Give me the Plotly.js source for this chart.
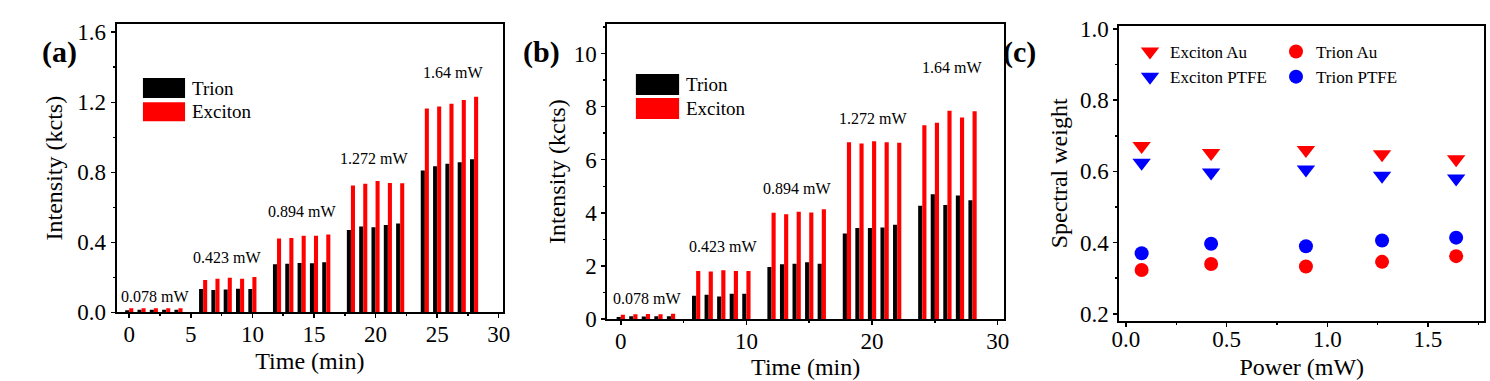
<!DOCTYPE html>
<html>
<head>
<meta charset="utf-8">
<script src="https://cdn.plot.ly/plotly-3.0.1.min.js"></script>
<style>
  html, body { margin: 0; padding: 0; background: #fff; }
  #chart { width: 1490px; height: 381px; }
</style>
</head>
<body>
<div id="chart"></div>
<script>
// measurement times (min), five per power step
const times = [0, 1, 2, 3, 4, 6, 7, 8, 9, 10, 12, 13, 14, 15, 16, 18, 19, 20, 21, 22, 24, 25, 26, 27, 28];

// panel (a) intensities, kcts
const trionA = [0.012, 0.015, 0.015, 0.015, 0.015,
                0.133, 0.128, 0.130, 0.135, 0.133,
                0.274, 0.278, 0.282, 0.280, 0.286,
                0.470, 0.490, 0.486, 0.499, 0.507,
                0.810, 0.834, 0.848, 0.857, 0.874];
const excitonA = [0.023, 0.023, 0.023, 0.023, 0.023,
                  0.185, 0.192, 0.198, 0.192, 0.202,
                  0.421, 0.425, 0.438, 0.438, 0.444,
                  0.724, 0.735, 0.750, 0.739, 0.737,
                  1.164, 1.175, 1.192, 1.213, 1.232];

// panel (b) intensities, kcts
const trionB = [0.075, 0.10, 0.09, 0.10, 0.10,
                0.875, 0.91, 0.85, 0.95, 0.95,
                1.96, 2.06, 2.08, 2.14, 2.08,
                3.22, 3.43, 3.43, 3.45, 3.55,
                4.27, 4.70, 4.29, 4.65, 4.47];
const excitonB = [0.16, 0.175, 0.19, 0.175, 0.20,
                  1.81, 1.79, 1.84, 1.81, 1.81,
                  4.00, 3.95, 4.04, 4.01, 4.13,
                  6.66, 6.61, 6.70, 6.66, 6.64,
                  7.30, 7.39, 7.84, 7.59, 7.83];

// panel (c) spectral weights vs power
const powers = [0.078, 0.423, 0.894, 1.272, 1.64];
const excitonAu = [0.671, 0.652, 0.660, 0.648, 0.634];
const excitonPTFE = [0.624, 0.597, 0.605, 0.588, 0.580];
const trionAu = [0.323, 0.340, 0.333, 0.346, 0.362];
const trionPTFE = [0.370, 0.397, 0.390, 0.406, 0.414];

const FONT = 'Liberation Serif';
const RED = '#ff0000', BLUE = '#0000ff';

function axis(extra) {
    return Object.assign({
        showline: true, linewidth: 2, linecolor: 'black', mirror: true,
        ticks: 'outside', ticklen: 4, tickwidth: 1.5, tickcolor: 'black',
        showgrid: false, zeroline: false,
        tickfont: { family: FONT, size: 23, color: 'black' },
    }, extra);
}
function minor(dtick) {
    return { ticks: 'outside', ticklen: 2, tickwidth: 1.5, tickcolor: 'black', dtick: dtick, showgrid: false };
}
function title(text, standoff) {
    return { text: text, standoff: standoff, font: { family: FONT, size: 24, color: 'black' } };
}

function bars(y, color, offset, xa, ya) {
    return {
        type: 'bar', x: times, y: y, width: 0.33, offset: offset,
        marker: { color: color, line: { width: 0 } },
        xaxis: xa, yaxis: ya, showlegend: false, hoverinfo: 'x+y',
    };
}
function points(y, symbol, color, size, name, legend) {
    return {
        type: 'scatter', mode: 'markers', x: powers, y: y, name: name,
        marker: { symbol: symbol, size: size, color: color },
        xaxis: 'x3', yaxis: 'y3', legend: legend,
    };
}

const data = [
    bars(trionA, 'black', -0.33, 'x', 'y'),
    bars(excitonA, RED, 0, 'x', 'y'),
    bars(trionB, 'black', -0.33, 'x2', 'y2'),
    bars(excitonB, RED, 0, 'x2', 'y2'),
    points(excitonAu, 'triangle-down', RED, 16, 'Exciton Au', 'legend2'),
    points(excitonPTFE, 'triangle-down', BLUE, 16, 'Exciton PTFE', 'legend2'),
    points(trionAu, 'circle', RED, 14, 'Trion Au', 'legend3'),
    points(trionPTFE, 'circle', BLUE, 14, 'Trion PTFE', 'legend3'),
];

// power labels over each group of bars
const powerLabels = powers.map(p => p + ' mW');
const labelPosA = [[2.1, 0.093], [7.9, 0.312], [14.0, 0.575], [19.9, 0.88], [26.3, 1.371]];
const labelPosB = [[2.1, 0.78], [8.1, 2.72], [14.05, 4.92], [20.1, 7.55], [26.4, 9.46]];

const annotations = [];
powerLabels.forEach((t, i) => {
    annotations.push({ text: t, x: labelPosA[i][0], y: labelPosA[i][1], xref: 'x', yref: 'y',
        showarrow: false, font: { family: FONT, size: 16, color: 'black' } });
    annotations.push({ text: t, x: labelPosB[i][0], y: labelPosB[i][1], xref: 'x2', yref: 'y2',
        showarrow: false, font: { family: FONT, size: 16, color: 'black' } });
});
// panel letters
[['(a)', 40], ['(b)', 541.7], ['(c)', 1038]].forEach(([t, px]) => {
    annotations.push({ text: '<b>' + t + '</b>', x: px / 1490, y: 1 - 33 / 381, xref: 'paper', yref: 'paper',
        showarrow: false, font: { family: FONT, size: 30, color: 'black' } });
});

// bar legends for (a) and (b), drawn as boxes inside each plot
const shapes = [];
function barLegend(xa, ya, x0, x1, rows, textX) {
    const colors = ['black', RED];
    const names = ['Trion', 'Exciton'];
    rows.forEach((r, i) => {
        shapes.push({ type: 'rect', xref: xa + ' domain', yref: ya + ' domain',
            x0: x0, x1: x1, y0: r[0], y1: r[1], fillcolor: colors[i], line: { width: 0 } });
        annotations.push({ text: names[i], xref: xa + ' domain', yref: ya + ' domain',
            x: textX, y: (r[0] + r[1]) / 2, xanchor: 'left', yanchor: 'middle', showarrow: false,
            font: { family: FONT, size: 19, color: 'black' } });
    });
}
barLegend('x', 'y', 0.068, 0.177, [[0.743, 0.813], [0.663, 0.729]], 0.19);
barLegend('x2', 'y2', 0.072, 0.181, [[0.760, 0.831], [0.679, 0.750]], 0.194);

const legendFont = { family: FONT, size: 17, color: 'black' };

const layout = {
    width: 1490, height: 381,
    margin: { l: 0, r: 0, t: 0, b: 0 },
    paper_bgcolor: 'white', plot_bgcolor: 'white',
    font: { family: FONT, color: 'black' },
    barmode: 'overlay',
    xaxis: axis({ domain: [0.0783, 0.3376], range: [-1.02, 30.35], dtick: 5, tick0: 0, ticklabelstandoff: -4,
        minor: minor(2.5), title: title('Time (min)', 6), anchor: 'y' }),
    yaxis: axis({ domain: [0.1803, 0.937], range: [0, 1.647], dtick: 0.4, tickformat: '.1f',
        minor: minor(0.2), title: title('Intensity (kcts)', 8), anchor: 'x' }),
    xaxis2: axis({ domain: [0.4076, 0.6738], range: [-1.07, 30.5], dtick: 10, tick0: 0, ticklabelstandoff: -4,
        minor: minor(5), title: title('Time (min)', 6), anchor: 'y2' }),
    yaxis2: axis({ domain: [0.1627, 0.9362], range: [0, 11.1], dtick: 2,
        minor: minor(1), title: title('Intensity (kcts)', 1), anchor: 'x2' }),
    xaxis3: axis({ domain: [0.7512, 0.9962], range: [-0.033, 1.78], dtick: 0.5, tickformat: '.1f', ticklabelstandoff: -8,
        minor: minor(0.25), title: title('Power (mW)', 8), anchor: 'y3' }),
    yaxis3: axis({ domain: [0.1575, 0.9325], range: [0.18, 1.009], dtick: 0.2, tick0: 0, tickformat: '.1f',
        minor: minor(0.1), title: title('Spectral weight', 6), anchor: 'x3' }),
    legend2: { x: 1130 / 1490, y: 1 - 34 / 381, xanchor: 'left', yanchor: 'top',
        bgcolor: 'rgba(0,0,0,0)', font: legendFont, tracegroupgap: 0 },
    legend3: { x: 1276 / 1490, y: 1 - 34 / 381, xanchor: 'left', yanchor: 'top',
        bgcolor: 'rgba(0,0,0,0)', font: legendFont, tracegroupgap: 0 },
    annotations: annotations,
    shapes: shapes,
};

Plotly.newPlot('chart', data, layout, { displayModeBar: false, staticPlot: true });
</script>
</body>
</html>
